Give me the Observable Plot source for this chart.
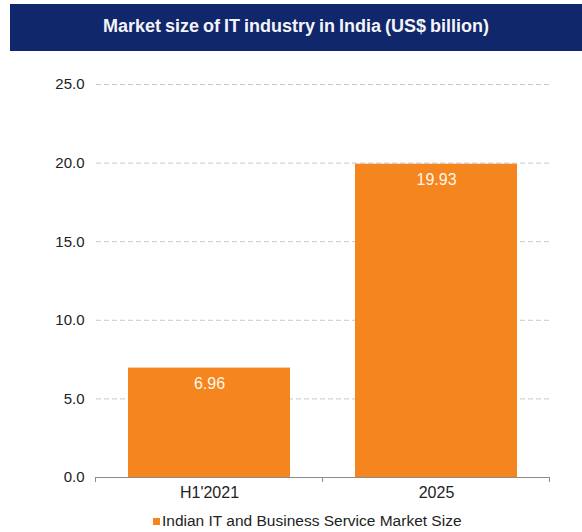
<!DOCTYPE html>
<html><head><meta charset="utf-8">
<script src="https://cdn.jsdelivr.net/npm/d3@7/dist/d3.min.js"></script>
<script src="https://cdn.jsdelivr.net/npm/@observablehq/plot@0.6/dist/plot.umd.min.js"></script>
<style>
body{margin:0;background:#fff;font-family:"Liberation Sans",Arial,sans-serif;}
#wrap{width:582px;height:532px;position:relative;}
#title{position:absolute;left:10px;top:4px;width:572px;height:47px;background:#10276c;color:#f4f4f8;font-weight:bold;font-size:18px;word-spacing:-1px;display:flex;align-items:center;justify-content:center;}
#title span{position:relative;top:-1px;}
#chart{position:absolute;left:0;top:51px;}
#legend{position:absolute;left:0;top:512px;width:582px;height:20px;font-size:15.5px;color:#222;}
#legend .sw{display:inline-block;width:7px;height:7px;background:#f4851f;margin-right:2px;vertical-align:1px;}
#legend .item{position:absolute;left:153px;top:0;white-space:nowrap;}
</style></head>
<body><div id="wrap">
<div id="title"><span>Market size of IT industry in India (US$ billion)</span></div>
<div id="chart"></div>
<div id="legend"><span class="item"><span class="sw"></span>Indian IT and Business Service Market Size</span></div>
</div>
<script>
const categories = ["H1'2021", "2025"];
const values = [6.96, 19.93];
const yTicks = [0, 5, 10, 15, 20, 25];
const seriesName = "Indian IT and Business Service Market Size";

const data = categories.map((c, i) => ({cat: c, value: values[i]}));

const bandEdges = (index, scales, vals, dims) => {
  const x = scales.x;
  const g = document.createElementNS("http://www.w3.org/2000/svg", "g");
  const bw = typeof x.bandwidth === "function" ? x.bandwidth() : x.bandwidth;
  const c0 = x(categories[0]), c1 = x(categories[1]);
  const step = c1 - c0;
  const first = c0 - (step - bw) / 2;
  const y0 = dims.height - dims.marginBottom;
  for (let k = 0; k <= categories.length; k++) {
    const px = first + k * step;
    const l = document.createElementNS("http://www.w3.org/2000/svg", "line");
    l.setAttribute("x1", px); l.setAttribute("x2", px);
    l.setAttribute("y1", y0); l.setAttribute("y2", y0 + 5);
    l.setAttribute("stroke", "#8c8c8c");
    g.appendChild(l);
  }
  return g;
};

const chart = Plot.plot({
  width: 582,
  height: 450,
  marginLeft: 96,
  marginRight: 32,
  marginTop: 33,
  marginBottom: 24,
  style: {fontFamily: "Liberation Sans, Arial, sans-serif", color: "#222", background: "transparent"},
  x: {domain: categories, paddingInner: 0.286, paddingOuter: 0.143, label: null},
  y: {domain: [0, 25], label: null},
  marks: [
    Plot.ruleY(yTicks.filter(d => d > 0), {stroke: "#c8c8c8", strokeDasharray: "5,3", strokeWidth: 1}),
    Plot.barY(data, {x: "cat", y: "value", fill: "#f4851f"}),
    Plot.text(data, {x: "cat", y: "value", text: d => d.value.toFixed(2), dy: 16, fill: "#fff7ea", fontSize: 16}),
    Plot.ruleY([0], {stroke: "#8c8c8c", strokeWidth: 1}),
    bandEdges,
    Plot.axisY({ticks: yTicks, tickFormat: d => d.toFixed(1), tickSize: 0, tickPadding: 12, fontSize: 15, label: null}),
    Plot.axisX({tickSize: 0, tickPadding: 9, fontSize: 16, label: null})
  ]
});
document.getElementById("chart").appendChild(chart);
</script>
</body></html>
